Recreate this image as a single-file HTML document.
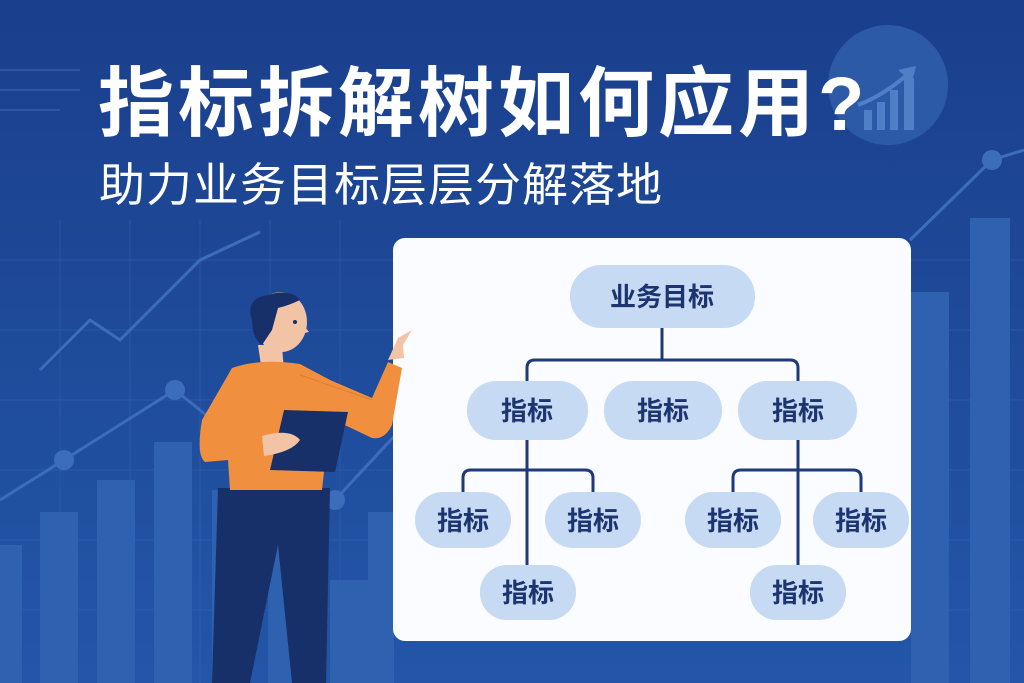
<!DOCTYPE html>
<html><head><meta charset="utf-8"><style>
html,body{margin:0;padding:0;width:1024px;height:683px;overflow:hidden}
body{background:#1f4c9c}
text{font-family:"Liberation Sans","Noto Sans CJK SC",sans-serif}
</style></head><body>
<svg width="1024" height="683" viewBox="0 0 1024 683" xmlns="http://www.w3.org/2000/svg">
<defs>
<linearGradient id="bg" x1="0" y1="0" x2="0" y2="1">
<stop offset="0" stop-color="#1a3f8c"/><stop offset="1" stop-color="#2356a8"/>
</linearGradient>
</defs>
<rect width="1024" height="683" fill="url(#bg)"/>
<g stroke="#3563b0" stroke-width="1" opacity="0.5">
<line x1="0" y1="260" x2="1024" y2="260"/><line x1="0" y1="330" x2="1024" y2="330"/>
<line x1="0" y1="400" x2="1024" y2="400"/><line x1="0" y1="470" x2="1024" y2="470"/>
<line x1="0" y1="540" x2="1024" y2="540"/><line x1="0" y1="610" x2="1024" y2="610"/>
<line x1="60" y1="220" x2="60" y2="683"/><line x1="130" y1="220" x2="130" y2="683"/>
<line x1="200" y1="220" x2="200" y2="683"/><line x1="270" y1="220" x2="270" y2="683"/>
<line x1="340" y1="220" x2="340" y2="683"/>
</g>
<g stroke="#3a66b3" stroke-width="2" opacity="0.6"><line x1="0" y1="70" x2="80" y2="70"/><line x1="0" y1="90" x2="80" y2="90"/><line x1="0" y1="110" x2="60" y2="110"/></g>
<g fill="#2e62b0">
<rect x="0" y="545" width="22" height="140"/><rect x="40" y="512" width="38" height="175"/>
<rect x="97" y="480" width="38" height="205"/><rect x="154" y="442" width="38" height="243"/>
<rect x="212" y="490" width="38" height="195"/><rect x="268" y="540" width="38" height="145"/>
<rect x="330" y="580" width="38" height="105"/><rect x="368" y="512" width="26" height="175"/>
<rect x="911" y="292" width="38" height="395"/><rect x="970" y="218" width="40" height="470"/>
</g>
<g stroke="#3c6dbb" stroke-width="3" fill="none">
<polyline points="0,500 64,460 175,390 262,460 335,500 400,430"/>
<polyline points="40,370 90,320 120,340 200,260 260,232"/>
<polyline points="910,240 992,160 1024,150"/>
</g>
<g fill="#3c6dbb"><circle cx="64" cy="460" r="10"/><circle cx="175" cy="390" r="10"/><circle cx="335" cy="500" r="10"/><circle cx="992" cy="160" r="10"/></g>
<circle cx="888" cy="85" r="60" fill="#2d5aa6"/>
<g fill="#4f7fc6"><rect x="864" y="110" width="8" height="20"/><rect x="877" y="102" width="8" height="28"/><rect x="890" y="90" width="8" height="40"/><rect x="904" y="78" width="10" height="52"/></g>
<path d="M858 105 Q885 95 910 72" stroke="#4f7fc6" stroke-width="4" fill="none"/>
<polygon points="916,66 898,70 912,82" fill="#4f7fc6"/>
<text x="98" y="130" font-size="76" font-weight="bold" fill="#fff" letter-spacing="4">指标拆解树如何应用?</text>
<text x="99" y="201" font-size="46" fill="#fff" letter-spacing="1">助力业务目标层层分解落地</text>
<rect x="393" y="238" width="518" height="403" rx="12" fill="#fafcff"/>
<g stroke="#1e3a78" stroke-width="3" fill="none">
<path d="M662 328V360"/>
<path d="M527 381V368Q527 360 535 360H790Q798 360 798 368V381"/>
<path d="M527 440V565"/><path d="M798 440V565"/>
<path d="M463 492V478Q463 470 471 470H585Q593 470 593 478V492"/>
<path d="M733 492V478Q733 470 741 470H853Q861 470 861 478V492"/>
</g>
<g fill="#c6daf3">
<rect x="570" y="265" width="185" height="63" rx="31"/>
<rect x="467" y="381" width="121" height="59" rx="29"/>
<rect x="604" y="381" width="118" height="59" rx="29"/>
<rect x="738" y="381" width="119" height="59" rx="29"/>
<rect x="415" y="492" width="96" height="56" rx="28"/>
<rect x="545" y="492" width="96" height="56" rx="28"/>
<rect x="685" y="492" width="96" height="56" rx="28"/>
<rect x="813" y="492" width="96" height="56" rx="28"/>
<rect x="480" y="565" width="96" height="55" rx="27"/>
<rect x="750" y="565" width="96" height="55" rx="27"/>
</g>
<g fill="#1c3470" font-size="26" text-anchor="middle" font-weight="bold">
<text x="662" y="306">业务目标</text>
<text x="527" y="420">指标</text><text x="663" y="420">指标</text><text x="798" y="420">指标</text>
<text x="463" y="530">指标</text><text x="593" y="530">指标</text><text x="733" y="530">指标</text><text x="861" y="530">指标</text>
<text x="528" y="602">指标</text><text x="798" y="602">指标</text>
</g>
<g>
<path d="M218 488 L330 488 L326 683 L292 683 L278 545 L250 683 L212 683 Z" fill="#17306a"/>
<path d="M258 345 L282 345 L284 372 L262 372 Z" fill="#f3c3a5"/>
<path d="M232 368 Q260 358 300 364 L330 380 L372 398 L388 362 L402 368 L392 425 Q385 440 372 438 L330 418 L322 490 L230 490 L228 460 L205 462 Q196 455 202 420 Z" fill="#f0903f"/>
<path d="M300 375 L372 400" stroke="#e07f30" stroke-width="1" fill="none"/>
<path d="M388 360 L398 338 L412 330 L403 345 L404 358 Z" fill="#f3c3a5"/>
<polygon points="284,410 348,412 335,472 270,470" fill="#17306a"/>
<path d="M262 436 Q290 428 300 440 Q292 452 264 456 Z" fill="#f3c3a5"/>
<ellipse cx="281" cy="322" rx="26" ry="30" fill="#f3c3a5"/>
<path d="M301 322 L309 332 L300 334 Z" fill="#f3c3a5"/>
<path d="M252 320 Q245 298 268 295 Q290 288 300 300 Q290 305 278 308 L272 330 L262 345 Q252 338 252 320 Z" fill="#17306a"/>
<circle cx="295" cy="322" r="2" fill="#17306a"/>
</g>
</svg>
</body></html>
